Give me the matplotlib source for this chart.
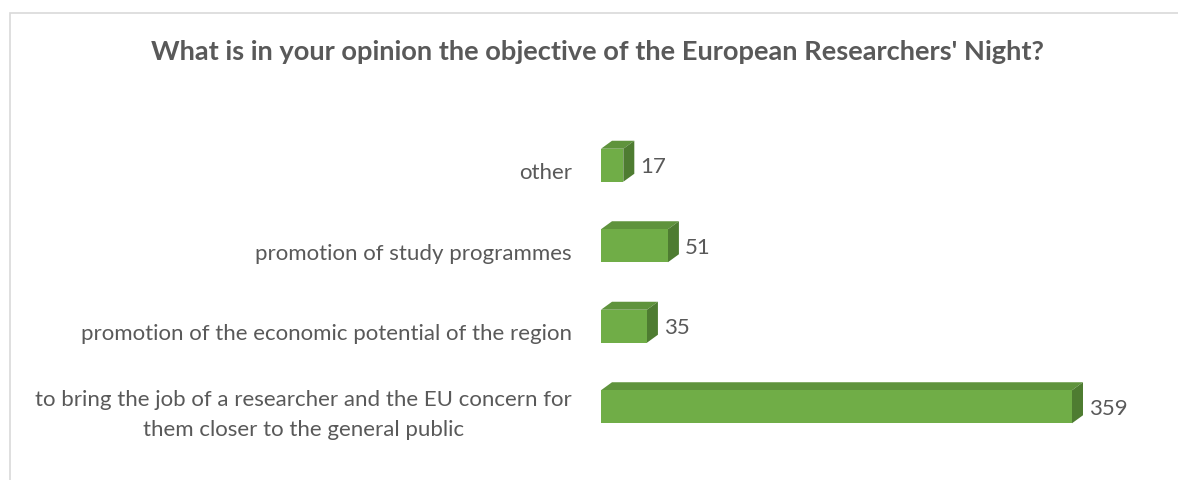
import matplotlib
matplotlib.use("Agg")
import matplotlib.pyplot as plt
from matplotlib.patches import Polygon, Rectangle

categories = ["to bring the job of a researcher and the EU concern for\nthem closer to the general public",
              "promotion of the economic potential of the region",
              "promotion of study programmes",
              "other"]
values = [359, 35, 51, 17]
title = "What is in your opinion the objective of the European Researchers' Night?"

FRONT = "#70AD47"
TOP = "#5F933C"
SIDE = "#4E7C31"
TEXT = "#595959"

plt.rcParams['font.family'] = ['Lato', 'DejaVu Sans']

W, H = 1178, 480
fig = plt.figure(figsize=(W/100, H/100), dpi=100)
fig.patch.set_facecolor("white")

# outer frame
fig.patches.append(Rectangle((9.5/W, -0.1), 1.2, 1 - 13.5/H + 0.1, transform=fig.transFigure,
                             fill=False, edgecolor="#D9D9D9", linewidth=1.2))

ax_l, ax_r = 601, 1130
ax_t, ax_b = 125, 447
ax = fig.add_axes([ax_l/W, 1 - ax_b/H, (ax_r-ax_l)/W, (ax_b-ax_t)/H])
px_per_unit = (1072 - 601) / 359
xmax = (ax_r - ax_l) / px_per_unit
ax.set_xlim(0, xmax)
ax.set_ylim(-0.5, 3.5)
ax.axis("off")

bar_h = 0.41
px_per_cat = (ax_b - ax_t) / 4
ddx = 11 / px_per_unit
ddy = 8 / px_per_cat

ypos = list(range(len(values)))
ax.barh(ypos, values, height=bar_h, color=FRONT, edgecolor="none", zorder=3)
for y, v in zip(ypos, values):
    y0, y1 = y - bar_h/2, y + bar_h/2
    top = Polygon([(0, y1), (v, y1), (v+ddx, y1+ddy), (ddx, y1+ddy)], closed=True,
                  facecolor=TOP, edgecolor="none", zorder=2)
    side = Polygon([(v, y0), (v+ddx, y0+ddy), (v+ddx, y1+ddy), (v, y1)], closed=True,
                   facecolor=SIDE, edgecolor="none", zorder=2)
    ax.add_patch(top)
    ax.add_patch(side)
    ax.text(v + ddx + 6/px_per_unit, y - 2/px_per_cat, str(v), va="center", ha="left",
            fontsize=16, color=TEXT, zorder=4)
    ax.text(-29/px_per_unit, y - 8/px_per_cat, categories[y], va="center", ha="right",
            fontsize=16, color=TEXT, linespacing=1.6, multialignment="center")

fig.text(597.5/W, 1 - 52/H, title, ha="center", va="center", fontsize=19.6,
         fontweight="bold", color=TEXT)

fig.savefig("out.png", dpi=100, facecolor="white")
